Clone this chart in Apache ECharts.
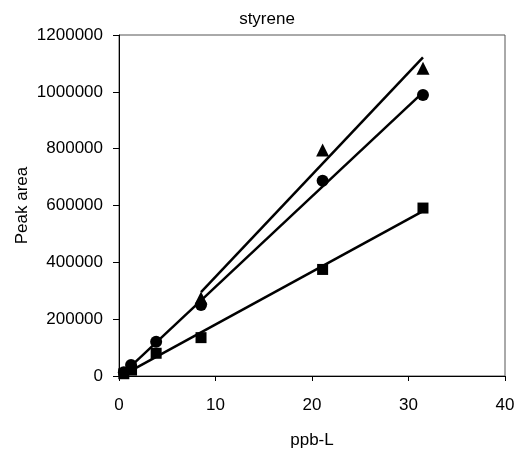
<!DOCTYPE html>
<html><head><meta charset="utf-8">
<script src="https://cdn.jsdelivr.net/npm/echarts@6/dist/echarts.min.js"></script>
<style>html,body{margin:0;padding:0;background:#fff}#c{width:531px;height:457px}</style>
</head><body><div id="c"></div>
<script>
const xSquares = [0.5, 1.3, 3.85, 8.5, 21.1, 31.5];
const ySquares = [8000, 21000, 80000, 135000, 375000, 591000];
const xCircles = [0.5, 1.25, 3.85, 8.5, 21.1, 31.5];
const yCircles = [13000, 38700, 120700, 249900, 687300, 988900];
const xTriangles = [8.5, 21.1, 31.5];
const yTriangles = [274500, 795000, 1082800];
// trendline end points
const trendSquaresX = [0.3, 31.5];
const trendSquaresY = [1000, 580000];
const trendCirclesX = [0.3, 31.5];
const trendCirclesY = [5000, 998000];
const trendTrianglesX = [8.5, 31.5];
const trendTrianglesY = [295000, 1121000];
const xTicks = [0, 10, 20, 30, 40];
const yTicks = [0, 200000, 400000, 600000, 800000, 1000000, 1200000];

const pair = (xs, ys) => xs.map((x, i) => [x, ys[i]]);
const font = 'Liberation Sans, Arial, sans-serif';
const fs = 17;
const chart = echarts.init(document.getElementById('c'), null, {renderer: 'canvas'});
const lineSeries = (xs, ys) => ({
  type: 'line', data: pair(xs, ys), symbol: 'none', silent: true,
  lineStyle: {color: '#000', width: 2.5}, z: 2, animation: false
});
const ptSeries = (xs, ys, sym, size) => ({
  type: 'scatter', data: pair(xs, ys), symbol: sym, symbolSize: size,
  itemStyle: {color: '#000', opacity: 1}, z: 3, animation: false
});
chart.setOption({
  animation: false,
  title: {text: 'styrene', left: 262, top: 6, textAlign: 'center',
    textStyle: {fontFamily: font, fontSize: fs, fontWeight: 'normal', color: '#000'}},
  grid: {left: 119, right: 26, top: 35, bottom: 81, show: true, borderColor: '#555', borderWidth: 1},
  xAxis: {
    type: 'value', min: xTicks[0], max: xTicks[xTicks.length - 1], interval: 10,
    name: 'ppb-L', nameLocation: 'middle', nameGap: 56, nameMoveOverlap: false,
    nameTextStyle: {fontFamily: font, fontSize: fs, color: '#000'},
    axisLine: {show: true, lineStyle: {color: '#000', width: 1}},
    axisTick: {show: true, inside: false, length: 5, lineStyle: {color: '#000'}},
    axisLabel: {fontFamily: font, fontSize: fs, color: '#000', margin: 21, formatter: v => String(v)},
    splitLine: {show: false}
  },
  yAxis: {
    type: 'value', min: yTicks[0], max: yTicks[yTicks.length - 1], interval: 200000,
    name: 'Peak area', nameLocation: 'middle', nameGap: 88, nameRotate: 90, nameMoveOverlap: false,
    nameTextStyle: {fontFamily: font, fontSize: fs, color: '#000'},
    axisLine: {show: true, lineStyle: {color: '#000', width: 1}},
    axisTick: {show: true, inside: false, length: 6, lineStyle: {color: '#000'}},
    axisLabel: {fontFamily: font, fontSize: fs, color: '#000', margin: 16, formatter: v => String(v)},
    splitLine: {show: false}
  },
  series: [
    lineSeries(trendSquaresX, trendSquaresY),
    lineSeries(trendCirclesX, trendCirclesY),
    lineSeries(trendTrianglesX, trendTrianglesY),
    ptSeries(xSquares, ySquares, 'rect', 11),
    ptSeries(xCircles, yCircles, 'circle', 12),
    ptSeries(xTriangles, yTriangles, 'triangle', 13)
  ]
});
</script></body></html>
